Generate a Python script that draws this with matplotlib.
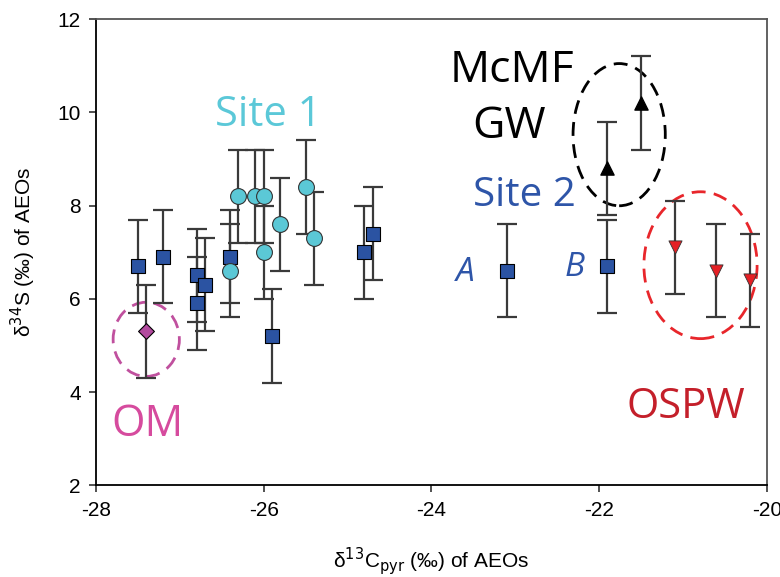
import matplotlib.pyplot as plt
from matplotlib.patches import Ellipse

# Site 2 (squares)
site2_x = [-27.5, -27.2, -26.8, -26.8, -26.7, -26.4, -25.9, -24.8, -24.7, -23.1, -21.9]
site2_y = [6.7, 6.9, 6.5, 5.9, 6.3, 6.9, 5.2, 7.0, 7.4, 6.6, 6.7]
site2_err = [1.0] * len(site2_x)

# Site 1 (circles)
site1_x = [-26.3, -26.1, -26.0, -26.4, -26.0, -25.8, -25.5, -25.4]
site1_y = [8.2, 8.2, 8.2, 6.6, 7.0, 7.6, 8.4, 7.3]
site1_err = [1.0] * len(site1_x)

# OM (diamond)
om_x = [-27.4]
om_y = [5.3]
om_err = [1.0]

# McMF GW (up triangles)
gw_x = [-21.9, -21.5]
gw_y = [8.8, 10.2]
gw_err = [1.0, 1.0]

# OSPW (down triangles)
ospw_x = [-21.1, -20.6, -20.2]
ospw_y = [7.1, 6.6, 6.4]
ospw_err = [1.0, 1.0, 1.0]

x_ticks = [-28, -26, -24, -22, -20]
y_ticks = [2, 4, 6, 8, 10, 12]

fig = plt.figure(figsize=(7.8, 5.77), dpi=100)
ax = fig.add_axes([0.123, 0.159, 0.860, 0.808])

ebar = dict(fmt='none', ecolor='#3a3a3a', elinewidth=1.6, capsize=7, capthick=1.6, zorder=2)
ax.errorbar(site2_x, site2_y, yerr=site2_err, **ebar)
ax.errorbar(site1_x, site1_y, yerr=site1_err, **ebar)
ax.errorbar(om_x, om_y, yerr=om_err, **ebar)
ax.errorbar(gw_x, gw_y, yerr=gw_err, **ebar)
ax.errorbar(ospw_x, ospw_y, yerr=ospw_err, **ebar)

ax.scatter(site2_x, site2_y, marker='s', s=90, c='#2b53a2', edgecolors='black', linewidths=0.8, zorder=3)
ax.scatter(site1_x, site1_y, marker='o', s=130, c='#5bc8d6', edgecolors='#333333', linewidths=0.8, zorder=3)
ax.scatter(om_x, om_y, marker='D', s=65, c='#b24a9e', edgecolors='black', linewidths=0.8, zorder=3)
ax.scatter(gw_x, gw_y, marker='^', s=90, c='black', zorder=3)
ax.scatter(ospw_x, ospw_y, marker='v', s=90, c='#e42025', edgecolors='#333333', linewidths=0.6, zorder=3)

# dashed group outlines
ax.add_patch(Ellipse((-27.4, 5.13), 0.79, 1.59, fill=False, ec='#c0509e', ls=(0, (5, 3)), lw=2))
ax.add_patch(Ellipse((-21.76, 9.52), 1.10, 3.05, fill=False, ec='black', ls=(0, (5, 3)), lw=2))
ax.add_patch(Ellipse((-20.79, 6.72), 1.35, 3.15, fill=False, ec='#e8262b', ls=(0, (5, 3)), lw=2))

fam = ['Open Sans', 'DejaVu Sans']
ax.text(-25.95, 9.94, 'Site 1', color='#5bc8d8', family=fam, fontsize=30, ha='center', va='center')
ax.text(-23.04, 10.9, 'McMF', color='black', family=fam, fontsize=32, ha='center', va='center')
ax.text(-23.07, 9.68, 'GW', color='black', family=fam, fontsize=32, ha='center', va='center')
ax.text(-22.89, 8.22, 'Site 2', color='#2e55a8', family=fam, fontsize=29, ha='center', va='center')
ax.text(-23.59, 6.57, 'A', color='#2e55a8', style='italic', family=fam,
        fontsize=24, ha='center', va='center')
ax.text(-22.29, 6.67, 'B', color='#2e55a8', style='italic', family=fam,
        fontsize=24, ha='center', va='center')
ax.text(-27.38, 3.29, 'OM', color='#d64b9e', family=fam, fontsize=31, ha='center', va='center')
ax.text(-20.97, 3.67, 'OSPW', color='#c41f2a', family=fam, fontsize=30, ha='center', va='center')

ax.set_xlim(-28, -20)
ax.set_ylim(2, 12)
ax.set_xticks(x_ticks)
ax.set_yticks(y_ticks)
tick_font = ['Liberation Sans Narrow', 'Liberation Sans', 'DejaVu Sans']
ax.set_xticklabels([str(t) for t in x_ticks], family=tick_font, fontsize=15)
ax.set_yticklabels([str(t) for t in y_ticks], family=tick_font, fontsize=15)
ax.tick_params(direction='out', length=5, width=1.2, color='#333333', pad=6)

for side in ['left', 'bottom']:
    ax.spines[side].set_color('black')
    ax.spines[side].set_linewidth(1.3)
for side in ['top', 'right']:
    ax.spines[side].set_color('#555555')
    ax.spines[side].set_linewidth(1.3)

ax.set_xlabel('δ$^{13}$C$_{\\rm pyr}$ (‰) of AEOs', family=tick_font, fontsize=15, labelpad=18)
ax.set_ylabel('δ$^{34}$S (‰) of AEOs', family=tick_font, fontsize=15, labelpad=14)

fig.savefig('out.png', dpi=100)
